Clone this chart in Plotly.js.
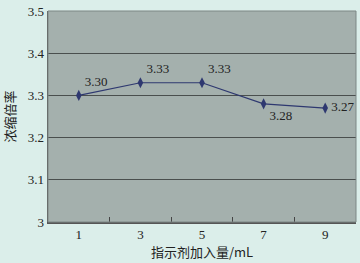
<!DOCTYPE html>
<html><head><meta charset="utf-8">
<script src="https://cdn.plot.ly/plotly-3.0.1.min.js"></script>
<style>html,body{margin:0;padding:0;background:#dbeeea;}#c{width:360px;height:263px;}</style>
</head><body><div id="c"></div>
<script>
var categories = ['1', '3', '5', '7', '9'];
var values = [3.30, 3.33, 3.33, 3.28, 3.27];
var valueLabels = ['3.30', '3.33', '3.33', '3.28', '3.27'];
var yTicks = [3, 3.1, 3.2, 3.3, 3.4, 3.5];
var yTickLabels = ['3', '3.1', '3.2', '3.3', '3.4', '3.5'];

var trace = {
  x: categories, y: values, type: 'scatter', mode: 'lines+markers+text',
  text: valueLabels,
  textposition: ['top right', 'top right', 'top right', 'bottom right', 'middle right'],
  textfont: {family: 'Liberation Serif', size: 13, color: '#222'},
  line: {color: '#2e3870', width: 1.2},
  marker: {symbol: 'diamond-tall', size: 8, color: '#2e3870'},
  cliponaxis: false
};
var layout = {
  width: 360, height: 263,
  margin: {l: 48, r: 4, t: 11, b: 41},
  paper_bgcolor: '#dbeeea', plot_bgcolor: '#a4b0ad',
  showlegend: false,
  font: {family: 'Liberation Serif', size: 13, color: '#222'},
  xaxis: {
    type: 'category', range: [-0.5, 4.5], autorange: false,
    tickson: 'boundaries', ticks: 'inside', ticklen: 5, tickcolor: '#444',
    showline: true, linecolor: '#555', linewidth: 1.5, showgrid: false, mirror: false,
    tickfont: {family: 'Liberation Serif', size: 13, color: '#222'},
    title: {text: '指示剂加入量/mL', font: {family: 'Noto Sans CJK SC, Liberation Serif', size: 13, color: '#222'}, standoff: 5}
  },
  yaxis: {
    range: [3, 3.5], autorange: false, tickvals: yTicks, ticktext: yTickLabels, ticks: '',
    showline: true, linecolor: '#555', linewidth: 1.5,
    showgrid: true, gridcolor: '#4a4f4e', gridwidth: 1, zeroline: false,
    tickfont: {family: 'Liberation Serif', size: 13, color: '#222'},
    title: {text: '浓缩倍率', font: {family: 'Noto Sans CJK SC', size: 13, color: '#222'}, standoff: 10}
  },
  shapes: [{type: 'rect', xref: 'paper', yref: 'paper', x0: 0, x1: 1, y0: 0, y1: 1, line: {color: '#7d8785', width: 1}}]
};
Plotly.newPlot('c', [trace], layout, {staticPlot: true, displayModeBar: false});
</script></body></html>
